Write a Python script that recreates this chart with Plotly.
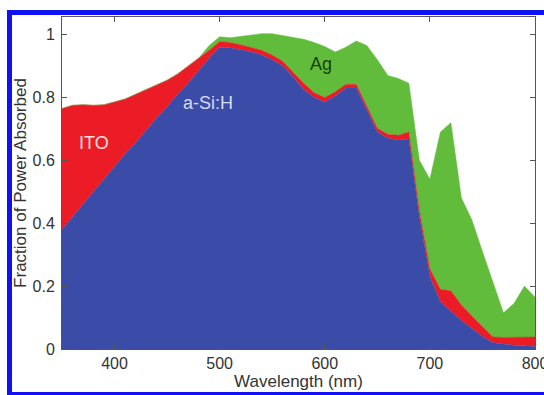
import plotly.graph_objects as go

wavelength = list(range(350, 801, 10))

# absorbed fraction in each layer (stacked: a-Si:H, ITO, Ag)
asi = [0.38, 0.42, 0.46, 0.50, 0.54, 0.58, 0.62, 0.655, 0.695, 0.735,
       0.77, 0.81, 0.845, 0.885, 0.925, 0.96,
       0.958, 0.952, 0.945, 0.935, 0.92, 0.90, 0.865, 0.825, 0.80, 0.785,
       0.805, 0.83, 0.83, 0.76, 0.69, 0.67, 0.665, 0.668, 0.42, 0.23,
       0.15, 0.12, 0.09, 0.065, 0.04, 0.02, 0.015, 0.012, 0.01, 0.008]
ito = [0.385, 0.355, 0.317, 0.275, 0.237, 0.205, 0.175, 0.155, 0.13, 0.105,
       0.085, 0.065, 0.055, 0.04, 0.025, 0.018,
       0.017, 0.016, 0.015, 0.015, 0.015, 0.015, 0.015, 0.02, 0.015, 0.015,
       0.013, 0.012, 0.012, 0.012, 0.012, 0.013, 0.015, 0.022, 0.02, 0.025,
       0.04, 0.065, 0.05, 0.04, 0.03, 0.018, 0.022, 0.025, 0.027, 0.03]
ag = [0, 0, 0, 0, 0, 0, 0, 0, 0, 0,
      0, 0, 0, 0, 0.015, 0.015,
      0.015, 0.027, 0.038, 0.053, 0.068, 0.082, 0.11, 0.14, 0.16, 0.162,
      0.127, 0.118, 0.138, 0.193, 0.218, 0.187, 0.18, 0.155, 0.16, 0.285,
      0.50, 0.535, 0.34, 0.305, 0.24, 0.172, 0.078, 0.108, 0.163, 0.127]

layer_names = ["a-Si:H", "ITO", "Ag"]
layer_colors = ["#3A4CA8", "#EC1C27", "#62BC3C"]
label_pos_x = [489, 380, 596]
label_pos_y = [0.783, 0.656, 0.908]
label_colors = ["#D8DAF2", "#FBE0E0", "#173F0E"]

fig = go.Figure()
for name, vals, col in zip(layer_names, [asi, ito, ag], layer_colors):
    fig.add_trace(go.Scatter(
        x=wavelength, y=vals, name=name, stackgroup="one", mode="lines",
        line=dict(width=0.5, color=col), fillcolor=col, hoverinfo="x+y+name",
    ))

for name, lx, ly, lc in zip(layer_names, label_pos_x, label_pos_y, label_colors):
    fig.add_annotation(x=lx, y=ly, text=name, showarrow=False,
                       font=dict(family="Liberation Sans, Arial", size=18, color=lc))

# outer blue frame
fig.add_shape(type="rect", xref="paper", yref="paper",
              x0=-0.111, x1=1.03, y0=-0.137, y1=1.0136,
              line=dict(color="#1010F5", width=5), fillcolor="rgba(0,0,0,0)", layer="above")

axis_common = dict(showline=True, linecolor="#555555", linewidth=1, mirror="ticks",
                   ticks="inside", ticklen=5, tickcolor="#555555", showgrid=False,
                   zeroline=False, layer="above traces", ticklabeloverflow="allow",
                   automargin=False,
                   tickfont=dict(family="Liberation Sans, Arial", size=16, color="#333333"))
title_font = dict(family="Liberation Sans, Arial", size=17, color="#333333")

fig.update_layout(
    width=544, height=395,
    margin=dict(l=62, r=9, t=17, b=46, autoexpand=False),
    paper_bgcolor="white", plot_bgcolor="white",
    showlegend=False,
    xaxis=dict(range=[350, 800], tickvals=[400, 500, 600, 700, 800],
               title=dict(text="Wavelength (nm)", standoff=1, font=title_font),
               **axis_common),
    yaxis=dict(range=[0, 1.056], tickvals=[0, 0.2, 0.4, 0.6, 0.8, 1],
               ticktext=["0", "0.2", "0.4", "0.6", "0.8", "1"],
               ticklabelstandoff=3,
               title=dict(text="Fraction of Power Absorbed", standoff=1, font=title_font),
               **axis_common),
)

fig.write_html("out.html")
